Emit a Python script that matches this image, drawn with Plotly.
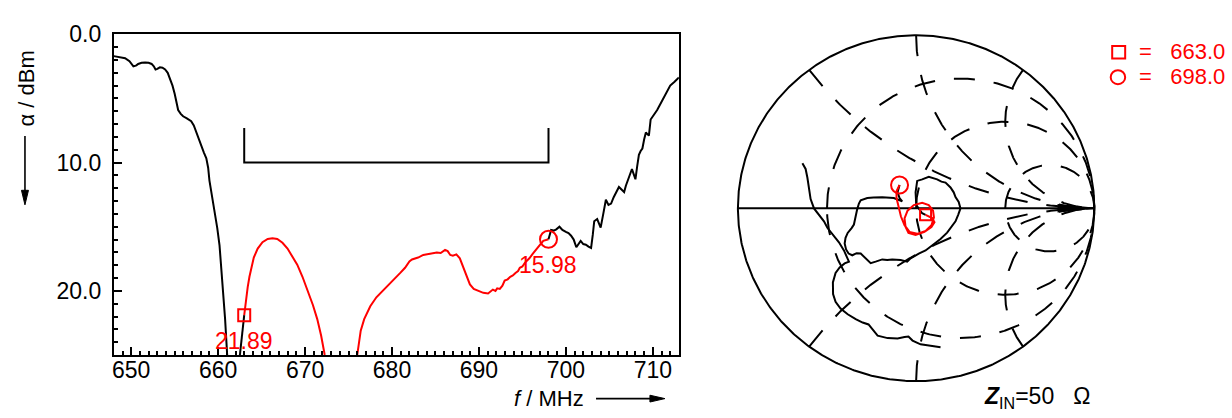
import numpy as np
import plotly.graph_objects as go

W, H = 1232, 418

# ---------------- Left chart data (f / MHz, alpha / dBm) ----------------
black_lo_f = [648.0, 648.6, 649.3, 649.8, 650.25, 650.6, 650.8, 651.2, 651.6, 652.0, 652.35, 652.6,
              652.8, 653.0, 653.3, 653.6, 653.9, 654.2, 654.45, 654.75, 655.0, 655.2, 655.4, 655.7,
              655.97, 656.4, 656.9, 657.2, 657.5, 657.8, 658.07, 658.35, 658.64, 658.85, 659.0,
              659.3, 659.6, 659.9, 660.16, 660.35, 660.55, 660.8, 661.04]
black_lo_a = [1.70, 1.75, 1.86, 2.10, 2.50, 2.42, 2.31, 2.22, 2.19, 2.22, 2.31, 2.50,
              2.75, 2.70, 2.57, 2.60, 2.74, 3.00, 3.40, 4.00, 4.63, 5.30, 5.90, 6.20,
              6.39, 6.55, 6.77, 7.10, 7.65, 8.30, 8.78, 9.20, 9.66, 10.4, 11.4,
              12.6, 13.9, 15.1, 16.45, 18.0, 19.7, 22.2, 25.0]

black_mid_f = [662.5, 662.75, 663.0]
black_mid_a = [25.0, 23.4, 21.89]

red1_f = [663.0, 663.2, 663.4, 663.6, 663.8, 664.1, 664.55, 665.1, 665.7, 666.25, 666.8, 667.4,
          667.98, 668.5, 669.1, 669.7, 670.3, 670.9, 671.4, 671.85, 672.26]
red1_a = [21.89, 20.6, 19.7, 18.9, 18.2, 17.4, 16.7, 16.2, 15.95, 15.9, 15.95, 16.25,
          16.7, 17.25, 17.96, 18.9, 19.97, 21.1, 22.2, 23.5, 25.0]

red2_f = [676.0, 676.2, 676.4, 676.8, 677.5, 678.2, 679.0, 680.0, 680.95, 681.5, 682.0, 682.3,
          683.0, 683.6, 684.4, 685.15, 685.6, 686.1, 686.4, 686.7, 687.0, 687.4, 687.8, 688.1,
          688.4, 688.7, 688.96, 689.4, 689.9, 690.5, 691.05, 691.3, 691.6, 691.9, 692.1, 692.4,
          692.7, 692.96, 693.3, 693.6, 693.9, 694.2, 694.5, 694.7, 695.0, 695.3, 695.8, 696.2,
          696.6, 696.97, 697.4, 698.0]
red2_a = [25.0, 24.0, 23.1, 22.2, 21.2, 20.5, 19.97, 19.3, 18.6, 18.2, 17.7, 17.55,
          17.4, 17.2, 17.1, 17.0, 17.05, 16.8, 16.9, 17.2, 17.25, 17.15, 17.46, 18.0,
          18.5, 19.0, 19.5, 19.85, 20.0, 20.15, 20.2, 20.05, 19.9, 20.0, 19.8, 19.85,
          19.6, 19.2, 19.1, 18.9, 18.8, 18.6, 18.45, 18.2, 18.1, 17.8, 17.46, 17.1,
          16.8, 16.45, 16.1, 15.98]

black_hi_f = [698.0, 698.3, 698.6, 698.9, 699.26, 699.6, 700.0, 700.3, 700.6, 700.9, 701.2, 701.45,
              701.7, 702.0, 702.3, 702.6, 702.9, 703.1, 703.26, 703.6, 703.8, 704.0, 704.3, 704.6,
              704.9, 705.2, 705.5, 705.75, 706.1, 706.4, 706.7, 706.9, 707.1, 707.35, 707.6, 707.8,
              708.0, 708.2, 708.4, 708.6, 708.8, 709.0, 709.2, 709.4, 709.55, 709.75, 710.1, 710.5,
              710.9, 711.3, 711.6, 712.0, 712.5, 713.0]
black_hi_a = [15.98, 15.25, 15.3, 15.2, 15.0, 15.25, 15.4, 15.5, 15.7, 16.0, 16.6, 16.3,
              16.1, 16.35, 16.4, 16.55, 16.65, 15.6, 14.57, 14.4, 14.7, 15.07, 14.0, 12.9,
              13.3, 13.2, 12.7, 12.4, 11.9, 12.1, 12.3, 11.8, 11.4, 10.9, 10.5, 10.9,
              11.3, 10.3, 9.4, 9.1, 8.9, 8.2, 7.65, 7.8, 7.9, 6.64, 6.3, 5.9,
              5.4, 4.9, 4.5, 4.0, 3.7, 3.37]

bracket_f = [663.0, 663.0, 698.0, 698.0]
bracket_a = [7.3, 10.0, 10.0, 7.3]

marker_f = [663.0, 698.0]
marker_a = [21.89, 15.98]
marker_labels = ["21.89", "15.98"]

# ---------------- Smith chart data (reflection coefficient u + jv) ----------------
smith_r_values = [1/3, 1.0, 3.0]
smith_x_values = [0.5, 1.0, 2.0, -0.5, -1.0, -2.0]

# black: left strand + lower scalloped "cloud"
blackA_u = [-0.638, -0.620, -0.610, -0.601, -0.592, -0.573, -0.545, -0.517, -0.498, -0.470, -0.433,
            -0.405, -0.386, -0.377, -0.401, -0.429, -0.452, -0.467, -0.466, -0.452, -0.424,
            -0.384, -0.339, -0.300, -0.267, -0.244, -0.216, -0.160, -0.104, -0.065, -0.043,
            -0.020, 0.025, 0.081, 0.137]
blackA_v = [0.260, 0.227, 0.176, 0.120, 0.053, -0.001, -0.038, -0.076, -0.113, -0.150, -0.197,
            -0.244, -0.283, -0.309, -0.319, -0.342, -0.374, -0.429, -0.496, -0.541, -0.580,
            -0.613, -0.641, -0.661, -0.672, -0.703, -0.737, -0.751, -0.753, -0.745, -0.742,
            -0.765, -0.787, -0.795, -0.804]

# black: loop around the centre (from circle marker to square marker)
blackB_u = [-0.093, -0.104, -0.093, -0.078, -0.125, -0.166, -0.190, -0.239, -0.274, -0.311, -0.321,
            -0.331, -0.336, -0.339, -0.349, -0.362, -0.384, -0.396, -0.401, -0.393, -0.379,
            -0.358, -0.334, -0.311, -0.283, -0.255, -0.227, -0.190, -0.162, -0.134, -0.087, -0.050,
            -0.031, -0.013, 0.015, 0.053, 0.090, 0.137, 0.174, 0.202, 0.221, 0.236, 0.249, 0.239,
            0.221, 0.211, 0.193, 0.165, 0.142, 0.118, 0.092, 0.071, 0.034, 0.006, -0.003, 0.001,
            0.034, 0.053]
blackB_v = [0.134, 0.092, 0.059, 0.040, 0.059, 0.062, 0.063, 0.062, 0.059, 0.046, 0.027,
            -0.008, -0.036, -0.059, -0.094, -0.115, -0.143, -0.171, -0.204, -0.238, -0.262,
            -0.272, -0.260, -0.262, -0.290, -0.318, -0.309, -0.296, -0.300, -0.296, -0.300, -0.309,
            -0.290, -0.277, -0.262, -0.244, -0.216, -0.178, -0.141, -0.104, -0.076, -0.038, -0.001,
            0.036, 0.064, 0.092, 0.120, 0.148, 0.154, 0.167, 0.174, 0.182, 0.167, 0.158, 0.092,
            0.018, -0.029, -0.038]

# red: pass band 663 -> 698 MHz
red_u = [0.053, 0.090, 0.103, 0.086, 0.047, -0.003, -0.043, -0.059, -0.065, -0.048, -0.013, 0.034,
         0.071, 0.095, 0.100, 0.086, 0.053, 0.006, -0.037, -0.065, -0.085, -0.099, -0.110, -0.110,
         -0.099, -0.093]
red_v = [-0.038, -0.057, -0.081, -0.109, -0.137, -0.154, -0.143, -0.109, -0.059, -0.014, 0.018, 0.032,
         0.018, -0.014, -0.053, -0.098, -0.132, -0.148, -0.137, -0.098, -0.048, 0.008, 0.059, 0.098,
         0.126, 0.134]

smith_marker_u = [0.053, -0.093]
smith_marker_v = [-0.038, 0.134]
legend_texts = ["=\u00a0\u00a0\u00a0663.0", "=\u00a0\u00a0\u00a0698.0"]

# ---------------- figure ----------------
BLACK = "#000000"
RED = "#ff0000"
FONT = "Liberation Sans, Arial, sans-serif"


def pxx(x):
    return x / W


def pxy(y):
    return 1 - y / H


fig = go.Figure()

# left chart traces
for f, a, c in [(black_lo_f, black_lo_a, BLACK), (black_mid_f, black_mid_a, BLACK),
                (red1_f, red1_a, RED), (red2_f, red2_a, RED), (black_hi_f, black_hi_a, BLACK),
                (bracket_f, bracket_a, BLACK)]:
    fig.add_trace(go.Scatter(x=f, y=a, mode="lines", line=dict(color=c, width=2),
                             xaxis="x", yaxis="y", showlegend=False, hoverinfo="skip"))
fig.add_trace(go.Scatter(x=marker_f[:1], y=marker_a[:1], mode="markers", xaxis="x", yaxis="y",
                         marker=dict(symbol="square-open", size=12, color=RED, line=dict(width=2)),
                         showlegend=False))
fig.add_trace(go.Scatter(x=marker_f[1:], y=marker_a[1:], mode="markers", xaxis="x", yaxis="y",
                         marker=dict(symbol="circle-open", size=17, color=RED, line=dict(width=2)),
                         showlegend=False))

# Smith chart grid
th = np.linspace(0, 2 * np.pi, 721)
fig.add_trace(go.Scatter(x=np.cos(th), y=np.sin(th), mode="lines", line=dict(color=BLACK, width=2),
                         xaxis="x2", yaxis="y2", showlegend=False, hoverinfo="skip"))
fig.add_trace(go.Scatter(x=[-1.0, 0.85], y=[0.0, 0.0], mode="lines", line=dict(color=BLACK, width=2),
                         xaxis="x2", yaxis="y2", showlegend=False, hoverinfo="skip"))
for r in smith_r_values:
    c = r / (1 + r)
    rho = 1 / (1 + r)
    t = np.linspace(np.pi, 3 * np.pi, 721)
    fig.add_trace(go.Scatter(x=c + rho * np.cos(t), y=-rho * np.sin(t), mode="lines",
                             line=dict(color=BLACK, width=2, dash="21px,19px"),
                             xaxis="x2", yaxis="y2", showlegend=False, hoverinfo="skip"))
for xv in smith_x_values:
    s = np.linspace(0, np.pi / 2 - 0.0005, 800)
    rr = np.tan(s)
    z = rr + 1j * xv
    g = (z - 1) / (z + 1)
    fig.add_trace(go.Scatter(x=g.real, y=g.imag, mode="lines",
                             line=dict(color=BLACK, width=2, dash="21px,19px"),
                             xaxis="x2", yaxis="y2", showlegend=False, hoverinfo="skip"))

# Smith curves
fig.add_trace(go.Scatter(x=blackA_u, y=blackA_v, mode="lines", line=dict(color=BLACK, width=2),
                         xaxis="x2", yaxis="y2", showlegend=False, hoverinfo="skip"))
fig.add_trace(go.Scatter(x=blackB_u, y=blackB_v, mode="lines", line=dict(color=BLACK, width=2),
                         xaxis="x2", yaxis="y2", showlegend=False, hoverinfo="skip"))
fig.add_trace(go.Scatter(x=red_u, y=red_v, mode="lines", line=dict(color=RED, width=2),
                         xaxis="x2", yaxis="y2", showlegend=False, hoverinfo="skip"))
fig.add_trace(go.Scatter(x=smith_marker_u[:1], y=smith_marker_v[:1], mode="markers", xaxis="x2", yaxis="y2",
                         marker=dict(symbol="square-open", size=11, color=RED, line=dict(width=2)),
                         showlegend=False))
fig.add_trace(go.Scatter(x=smith_marker_u[1:], y=smith_marker_v[1:], mode="markers", xaxis="x2", yaxis="y2",
                         marker=dict(symbol="circle-open", size=17, color=RED, line=dict(width=2)),
                         showlegend=False))

# axes
sm_x0, sm_x1, sm_y0, sm_y1 = 725, 1105, 15, 390
cx, cy, R = 915.6, 201.5, 178.5

fig.update_layout(
    width=W, height=H, autosize=False,
    margin=dict(l=0, r=0, t=0, b=0),
    paper_bgcolor="white", plot_bgcolor="white",
    font=dict(family=FONT, size=22, color=BLACK),
    xaxis=dict(domain=[pxx(112), pxx(678)], range=[648, 713], showgrid=False, zeroline=False,
               showline=True, linecolor=BLACK, linewidth=2, mirror=True,
               ticks="inside", ticklen=8, tickwidth=1.5, tickcolor=BLACK, dtick=10, tick0=650,
               minor=dict(ticks="inside", ticklen=4, tickwidth=1.5, dtick=1, tickcolor=BLACK),
               tickfont=dict(size=23, family=FONT), ticklabelstandoff=-7, anchor="y"),
    yaxis=dict(domain=[pxy(353), pxy(22)], range=[25, 0], showgrid=False, zeroline=False,
               showline=True, linecolor=BLACK, linewidth=2, mirror=True,
               ticks="inside", ticklen=8, tickwidth=1.5, tickcolor=BLACK, dtick=10, tick0=0,
               tickformat=".1f",
               minor=dict(ticks="inside", ticklen=4, tickwidth=1.5, dtick=1, tickcolor=BLACK),
               tickfont=dict(size=23, family=FONT), ticklabelstandoff=6, anchor="x"),
    xaxis2=dict(domain=[pxx(sm_x0), pxx(sm_x1)],
                range=[(sm_x0 - cx) / R, (sm_x1 - cx) / R], visible=False, anchor="y2"),
    yaxis2=dict(domain=[pxy(sm_y1), pxy(sm_y0)],
                range=[(cy - sm_y1) / R, (cy - sm_y0) / R], visible=False, anchor="x2"),
)

annotations = []
# value labels in left chart
annotations.append(dict(x=marker_f[0], y=23.9, xref="x", yref="y", text=marker_labels[0],
                        xanchor="center", yanchor="middle",
                        showarrow=False, font=dict(color=RED, size=23, family=FONT)))
annotations.append(dict(x=marker_f[1], y=18.0, xref="x", yref="y", text=marker_labels[1],
                        xanchor="center", yanchor="middle",
                        showarrow=False, font=dict(color=RED, size=23, family=FONT)))
# axis titles
annotations.append(dict(x=pxx(25), y=pxy(78), xref="paper", yref="paper", text="α / dBm",
                        xanchor="center", yanchor="middle",
                        textangle=-90, showarrow=False, font=dict(size=22, family=FONT)))
annotations.append(dict(x=pxx(548), y=pxy(398), xref="paper", yref="paper",
                        xanchor="center", yanchor="middle",
                        text="<i>f</i> / MHz", showarrow=False, font=dict(size=22, family=FONT)))
# legend texts
annotations.append(dict(x=pxx(1137), y=pxy(40), xref="paper", yref="paper", text=legend_texts[0],
                        xanchor="left", yanchor="middle",
                        showarrow=False, font=dict(color=RED, size=22, family=FONT)))
annotations.append(dict(x=pxx(1137), y=pxy(66), xref="paper", yref="paper", text=legend_texts[1],
                        xanchor="left", yanchor="middle",
                        showarrow=False, font=dict(color=RED, size=22, family=FONT)))
# Z_IN label
annotations.append(dict(x=pxx(982), y=pxy(397), xref="paper", yref="paper",
                        text="<b><i>Z</i></b><sub>IN</sub>=50\u00a0\u00a0\u00a0Ω", xanchor="left",
                        yanchor="middle", showarrow=False, font=dict(size=23, family=FONT)))
fig.update_layout(annotations=annotations)


def tri(points):
    return "M " + " L ".join(f"{pxx(x):.5f},{pxy(y):.5f}" for x, y in points) + " Z"


shapes = [
    # legend markers
    dict(type="rect", xref="paper", yref="paper", x0=pxx(1112), x1=pxx(1125), y0=pxy(47), y1=pxy(34),
         line=dict(color=RED, width=2)),
    dict(type="circle", xref="paper", yref="paper", x0=pxx(1110.5), x1=pxx(1125), y0=pxy(73.5), y1=pxy(59),
         line=dict(color=RED, width=2)),
    # y-axis direction arrow
    dict(type="line", xref="paper", yref="paper", x0=pxx(23), x1=pxx(23), y0=pxy(127), y1=pxy(186),
         line=dict(color=BLACK, width=1.6)),
    dict(type="path", xref="paper", yref="paper", path=tri([(19.5, 183), (26.5, 183), (23, 198)]),
         fillcolor=BLACK, line=dict(color=BLACK, width=1)),
    # x-axis direction arrow
    dict(type="line", xref="paper", yref="paper", x0=pxx(595), x1=pxx(652), y0=pxy(398), y1=pxy(398),
         line=dict(color=BLACK, width=1.6)),
    dict(type="path", xref="paper", yref="paper", path=tri([(649, 394.5), (649, 401.5), (664, 398)]),
         fillcolor=BLACK, line=dict(color=BLACK, width=1)),
    # smith real-axis arrow head
    dict(type="path", xref="paper", yref="paper",
         path=tri([(1058, cy - 3.5), (1058, cy + 3.5), (1093, cy)]),
         fillcolor=BLACK, line=dict(color=BLACK, width=1.5)),
]
fig.update_layout(shapes=shapes)

fig.write_html("out.html", config={"displayModeBar": False},
               post_script="document.body.style.margin='0px';")
